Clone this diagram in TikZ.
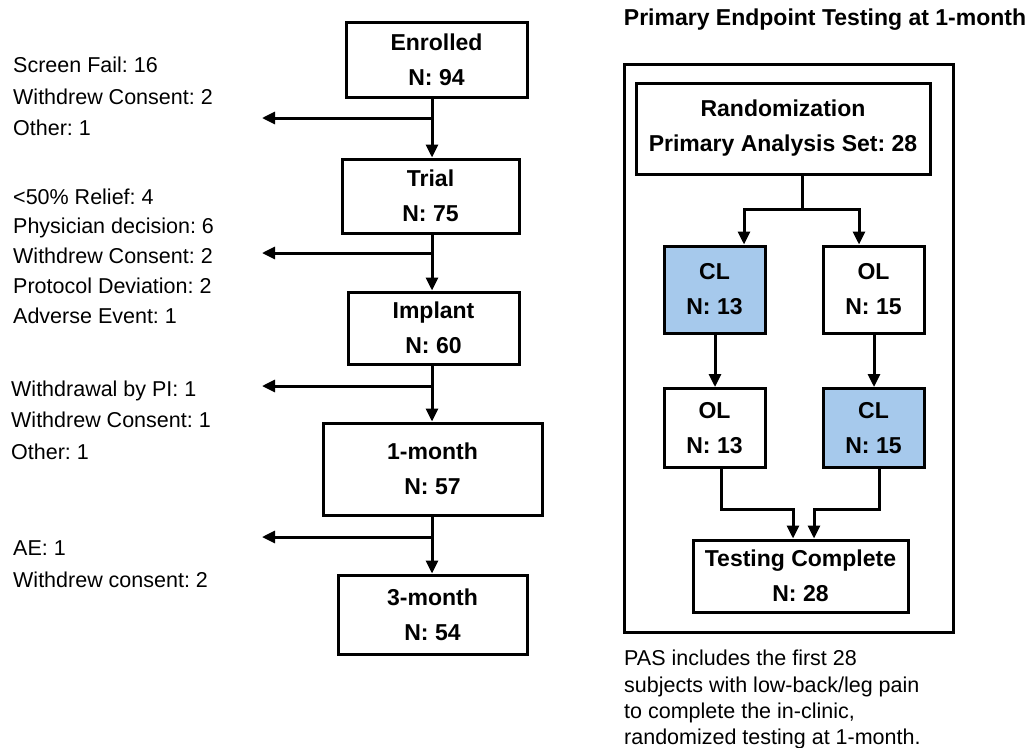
\documentclass[tikz,border=0pt]{standalone}
\usepackage{fontspec}
\setmainfont{Liberation Sans}
\usetikzlibrary{arrows.meta}
\definecolor{clblue}{RGB}{166,201,236}
\frenchspacing
\begin{document}
\begin{tikzpicture}[x=1pt,y=-1pt,
  every node/.append style={execute at begin node=\frenchspacing},
  box/.style={draw=black, line width=3pt, inner sep=0pt, align=center,
    font=\fontsize{23}{35}\selectfont\bfseries},
  clbox/.style={box, fill=clblue},
  wire/.style={draw=black, line width=3pt},
  arr/.style={wire, -{Triangle[length=13pt,width=12pt]}},
  reason/.style={anchor=north west, inner sep=0pt, align=left,
    font=\fontsize{21.5}{31.5}\selectfont},
  caption/.style={anchor=north west, inner sep=0pt, align=left,
    font=\fontsize{21.5}{26.3}\selectfont}
]
\useasboundingbox (0,0) rectangle (1033,747);

% ---------------- left: study flow ----------------
\node[box, minimum width=181pt, minimum height=75pt] (enr) at (436.5,59.5) {Enrolled\\N: 94};
\node[box, minimum width=177pt, minimum height=74pt] (trial) at (430.5,196) {Trial\\N: 75};
\node[box, minimum width=171pt, minimum height=72pt] (impl) at (433.5,328) {Implant\\N: 60};
\node[box, minimum width=219pt, minimum height=92pt] (m1) at (432.5,469) {1-month\\N: 57};
\node[box, minimum width=189pt, minimum height=79pt] (m3) at (432.5,614.5) {3-month\\N: 54};

% spine and exits
\coordinate (sp) at (432,0);
\coordinate (b1) at (432,118);  \coordinate (e1) at (262,118);
\coordinate (b2) at (432,253);  \coordinate (e2) at (262,253);
\coordinate (b3) at (432,386);  \coordinate (e3) at (262,386);
\coordinate (b4) at (432,537);  \coordinate (e4) at (262,537);

\draw[arr] (enr.south -| sp) -- (trial.north -| sp);
\draw[arr] (trial.south -| sp) -- (impl.north -| sp);
\draw[arr] (impl.south -| sp) -- (m1.north -| sp);
\draw[arr] (m1.south -| sp) -- (m3.north -| sp);
\draw[arr] (b1) -- (e1);
\draw[arr] (b2) -- (e2);
\draw[arr] (b3) -- (e3);
\draw[arr] (b4) -- (e4);

% reasons for leaving
\node[reason] (r1) at (13,57) {Screen Fail: 16\\Withdrew Consent: 2\\Other: 1};
\node[reason, font=\fontsize{21.5}{29.7}\selectfont] (r2) at (13,188.5)
  {<50\% Relief: 4\\Physician decision: 6\\Withdrew Consent: 2\\Protocol Deviation: 2\\Adverse Event: 1};
\node[reason] (r3) at (11,380.5) {Withdrawal by PI: 1\\Withdrew Consent: 1\\Other: 1};
\node[reason] (r4) at (13,540.5) {AE: 1\\Withdrew consent: 2};

% ---------------- right: primary endpoint ----------------
\node[font=\fontsize{23}{28}\selectfont\bfseries, inner sep=0pt] (title) at (825,20)
  {Primary Endpoint Testing at 1-month};
\node[draw=black, line width=3pt, minimum width=329pt, minimum height=568pt, inner sep=0pt]
  (frame) at (788.5,348) {};

\node[box, minimum width=294pt, minimum height=91pt] (rand) at (783,128.5)
  {Randomization\\Primary Analysis Set: 28};
\node[clbox, minimum width=101pt, minimum height=87pt] (cla) at (714.5,289.5) {CL\\N: 13};
\node[box, minimum width=101pt, minimum height=87pt] (olb) at (873.5,289.5) {OL\\N: 15};
\node[box, minimum width=101pt, minimum height=79pt] (ola) at (714.5,428) {OL\\N: 13};
\node[clbox, minimum width=101pt, minimum height=79pt] (clb) at (873.5,428) {CL\\N: 15};
\node[box, minimum width=215pt, minimum height=72pt] (done) at (800.5,576)
  {Testing Complete\\N: 28};

\coordinate (s0) at (802,209);
\coordinate (sl) at (744,209);
\coordinate (sr) at (859,209);
\draw[arr] (rand.south -| s0) -- (s0) -- (sl) -- (cla.north -| sl);
\draw[arr] (s0) -- (sr) -- (olb.north -| sr);

\coordinate (xa) at (715,0);
\coordinate (xb) at (874,0);
\draw[arr] (cla.south -| xa) -- (ola.north -| xa);
\draw[arr] (olb.south -| xb) -- (clb.north -| xb);

\coordinate (ja) at (721,509);
\coordinate (jb) at (879,509);
\coordinate (da) at (793,0);
\coordinate (db) at (814,0);
\draw[arr] (ola.south -| ja) -- (ja) -- (ja -| da) -- (done.north -| da);
\draw[arr] (clb.south -| jb) -- (jb) -- (jb -| db) -- (done.north -| db);

\node[caption] (note) at (624,650)
  {PAS includes the first 28\\subjects with low-back/leg pain\\to complete the in-clinic,\\randomized testing at 1-month.};
\end{tikzpicture}
\end{document}
